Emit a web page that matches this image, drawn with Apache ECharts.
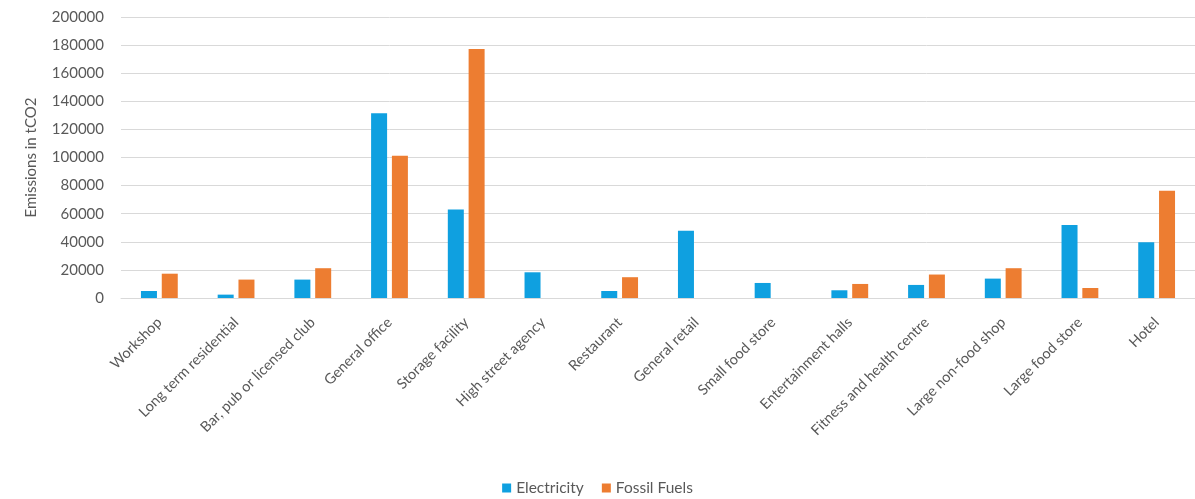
<!DOCTYPE html>
<html>
<head>
<meta charset="utf-8">
<script src="https://cdn.jsdelivr.net/npm/echarts@6/dist/echarts.min.js"></script>
<style>
  html, body { margin: 0; padding: 0; background: #fff; }
  #chart { width: 1195px; height: 499px; }
</style>
</head>
<body>
<div id="chart"></div>
<script>
const categories = ['Workshop', 'Long term residential', 'Bar, pub or licensed club', 'General office',
  'Storage facility', 'High street agency', 'Restaurant', 'General retail', 'Small food store',
  'Entertainment halls', 'Fitness and health centre', 'Large non-food shop', 'Large food store', 'Hotel'];
const electricity = [5000, 2400, 13100, 131500, 63000, 18300, 5000, 47800, 10700, 5500, 9300, 13800, 52000, 39700];
const fossilFuels = [17300, 13100, 21200, 101200, 177300, null, 14800, null, null, 10000, 16700, 21200, 7100, 76300];
const yTicks = [0, 20000, 40000, 60000, 80000, 100000, 120000, 140000, 160000, 180000, 200000];

const font = 'Lato, "Open Sans", sans-serif';
const chart = echarts.init(document.getElementById('chart'));
chart.setOption({
  animation: false,
  textStyle: { fontFamily: font },
  grid: { left: 121, right: -8, top: 17, bottom: 201, containLabel: false },
  legend: {
    bottom: -2,
    left: 'center',
    itemWidth: 9,
    itemHeight: 9,
    itemGap: 18,
    icon: 'rect',
    textStyle: { color: '#595959', fontSize: 15.5, fontFamily: font },
    data: ['Electricity', 'Fossil Fuels']
  },
  xAxis: {
    type: 'category',
    data: categories,
    axisLine: { lineStyle: { color: '#d9d9d9' } },
    axisTick: { show: false },
    axisLabel: { rotate: 45, interval: 0, color: '#595959', fontSize: 14.5, margin: 22 }
  },
  yAxis: {
    type: 'value',
    min: yTicks[0],
    max: yTicks[yTicks.length - 1],
    interval: 20000,
    name: 'Emissions in tCO2',
    nameLocation: 'middle',
    nameGap: 82,
    nameTextStyle: { color: '#595959', fontSize: 15 },
    axisLabel: { color: '#595959', fontSize: 15, margin: 17, formatter: v => String(v) },
    splitLine: { lineStyle: { color: '#d9d9d9', width: 1 } }
  },
  series: [
    { name: 'Electricity', type: 'bar', data: electricity, barWidth: 16, barGap: '30%',
      itemStyle: { color: '#0fa0e0' } },
    { name: 'Fossil Fuels', type: 'bar', data: fossilFuels, barWidth: 16,
      itemStyle: { color: '#ed7d31' } }
  ]
});
</script>
</body>
</html>
